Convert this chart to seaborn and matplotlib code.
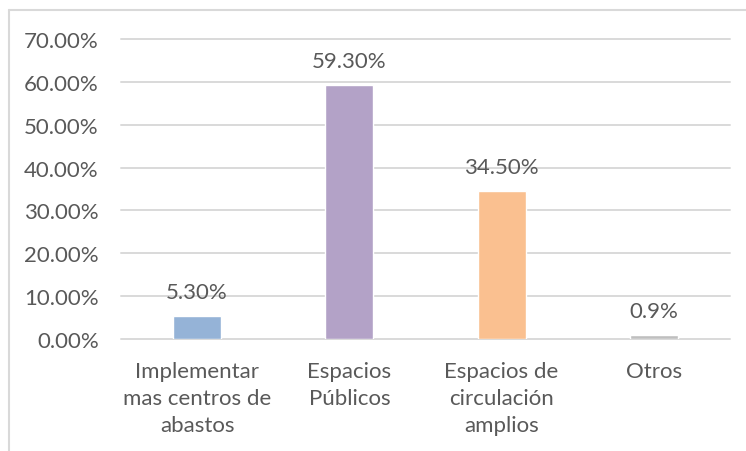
import pandas as pd
import numpy as np
import matplotlib.pyplot as plt
import seaborn as sns
from matplotlib.ticker import FuncFormatter
from matplotlib.lines import Line2D

# datos
categorias = ["Implementar\nmas centros de\nabastos", "Espacios\nPúblicos",
              "Espacios de\ncirculación\namplios", "Otros"]
valores = [0.053, 0.593, 0.345, 0.009]
etiquetas = ["5.30%", "59.30%", "34.50%", "0.9%"]
colores = ["#95B3D7", "#B3A2C7", "#FAC090", "#BFBFBF"]
yticks = [0.0, 0.1, 0.2, 0.3, 0.4, 0.5, 0.6, 0.7]

df = pd.DataFrame({"categoria": categorias, "valor": valores})

sns.set_style("white")
plt.rcParams['font.family'] = ['Lato', 'DejaVu Sans']
gris_texto = "#595959"
gris_linea = "#D9D9D9"

fig = plt.figure(figsize=(7.46, 4.52), dpi=100)
ax = fig.add_axes([121 / 746, 112 / 452, 609 / 746, 300 / 452])

sns.barplot(data=df, x="categoria", y="valor", hue="categoria", palette=colores,
            width=0.315, saturation=1, legend=False, ax=ax, zorder=3)

ax.set_ylim(0, 0.7)
ax.set_yticks(yticks)
ax.yaxis.set_major_formatter(FuncFormatter(lambda v, p: f"{v * 100:.2f}%"))
ax.grid(axis="y", color=gris_linea, linewidth=1.4, zorder=0)
for gl in ax.get_ygridlines():
    gl.set_clip_on(False)
ax.set_axisbelow(True)
for s in ax.spines.values():
    s.set_visible(False)
ax.set_xlabel("")
ax.set_ylabel("")
ax.tick_params(axis="y", length=0, pad=16, labelsize=16, labelcolor=gris_texto)
ax.tick_params(axis="x", length=0, pad=16, labelsize=16, labelcolor=gris_texto)
for t in ax.get_xticklabels():
    t.set_linespacing(1.42)

# etiquetas de valor
for i, (v, txt) in enumerate(zip(valores, etiquetas)):
    ax.annotate(txt, (i, v), xytext=(0, 13), textcoords="offset points",
                ha="center", va="baseline", fontsize=16, color=gris_texto)

# borde del gráfico (recortado)
fig.add_artist(Line2D([9 / 746, 1.0], [1 - 11 / 452, 1 - 11 / 452],
                      transform=fig.transFigure, color=gris_linea, linewidth=1.5))
fig.add_artist(Line2D([9 / 746, 9 / 746], [0, 1 - 11 / 452],
                      transform=fig.transFigure, color=gris_linea, linewidth=1.5))

fig.savefig("out.png", dpi=100)
